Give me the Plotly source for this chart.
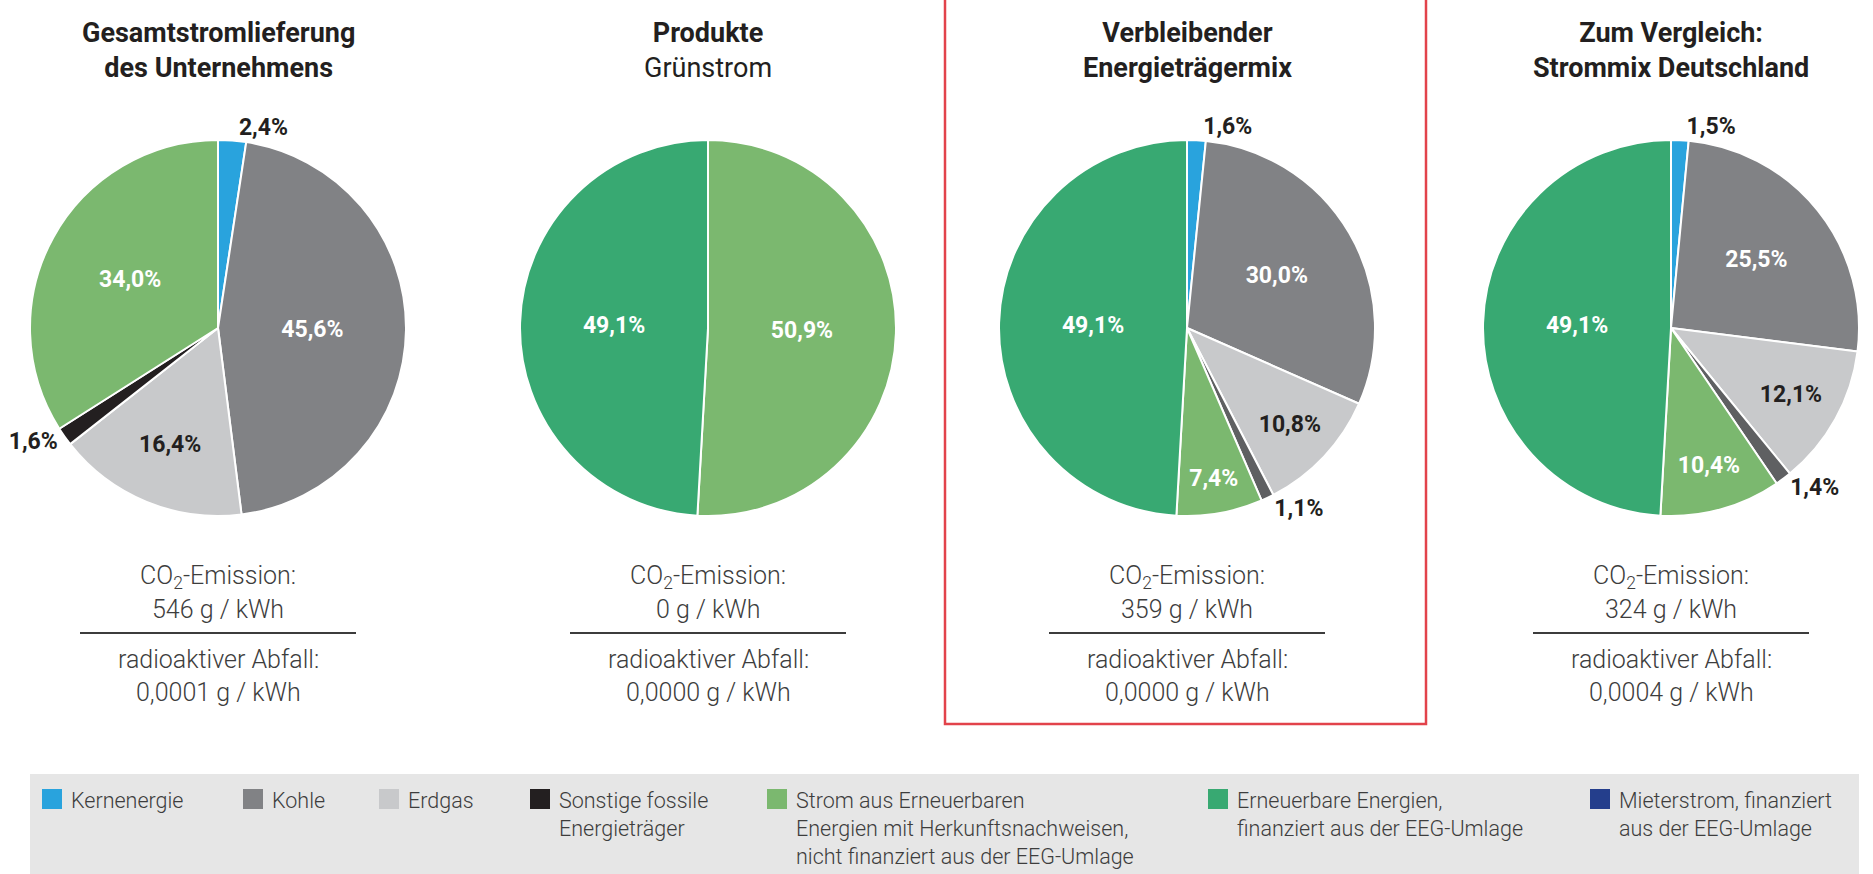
import plotly.graph_objects as go

W, H = 1873, 874

# ---------------- data ----------------
categories = ["Kernenergie", "Kohle", "Erdgas", "Sonstige fossile Energieträger",
              "Strom aus Erneuerbaren Energien mit HKN", "Erneuerbare Energien (EEG)",
              "Mieterstrom (EEG)"]
category_colors = ["#29a3dd", "#818285", "#c8c9cb", "#231f20", "#7bb86f", "#38a972", "#243e8c"]

pie_titles = ["<b>Gesamtstromlieferung</b><br><b>des Unternehmens</b>",
              "<b>Produkte</b><br>Grünstrom",
              "<b>Verbleibender</b><br><b>Energieträgermix</b>",
              "<b>Zum Vergleich:</b><br><b>Strommix Deutschland</b>"]

pie1_cats = ["Kernenergie", "Kohle", "Erdgas", "Sonstige fossile Energieträger",
             "Strom aus Erneuerbaren Energien mit HKN"]
pie1_vals = [2.4, 45.6, 16.4, 1.6, 34.0]

pie2_cats = ["Strom aus Erneuerbaren Energien mit HKN", "Erneuerbare Energien (EEG)"]
pie2_vals = [50.9, 49.1]

pie3_cats = ["Kernenergie", "Kohle", "Erdgas", "Sonstige fossile Energieträger",
             "Strom aus Erneuerbaren Energien mit HKN", "Erneuerbare Energien (EEG)"]
pie3_vals = [1.6, 30.0, 10.8, 1.1, 7.4, 49.1]

pie4_cats = pie3_cats
pie4_vals = [1.5, 25.5, 12.1, 1.4, 10.4, 49.1]

co2_values = ["546", "0", "359", "324"]
waste_values = ["0,0001", "0,0000", "0,0000", "0,0004"]

legend_labels = ["Kernenergie", "Kohle", "Erdgas",
                 "Sonstige fossile<br>Energieträger",
                 "Strom aus Erneuerbaren<br>Energien mit Herkunftsnachweisen,<br>nicht finanziert aus der EEG-Umlage",
                 "Erneuerbare Energien,<br>finanziert aus der EEG-Umlage",
                 "Mieterstrom, finanziert<br>aus der EEG-Umlage"]

# ---------------- layout helpers ----------------
pie_cx = [218, 708, 1187, 1671]
pie_cy = 328
pie_r = 188
legend_square_x = [42, 243, 379, 530, 767, 1208, 1590]

DARK = "#231f20"
TEXT_GRAY = "#3d3d3d"
light_cats = {"Erdgas"}
dark_small_color = "#5f6062"  # 'Sonstige' shade used in pies 3 and 4


def px_x(x):
    return x / W


def px_y(y):
    return 1 - y / H


fig = go.Figure()

pies = [(pie1_cats, pie1_vals), (pie2_cats, pie2_vals), (pie3_cats, pie3_vals), (pie4_cats, pie4_vals)]
for i, (cats, vals) in enumerate(pies):
    colors = []
    tcolors = []
    tpos = []
    for c, v in zip(cats, vals):
        col = category_colors[categories.index(c)]
        if c == "Sonstige fossile Energieträger" and i >= 2:
            col = dark_small_color
        colors.append(col)
        if v < 3:
            tpos.append("outside")
            tcolors.append(DARK)
        else:
            tpos.append("inside")
            tcolors.append(DARK if c in light_cats else "white")
    cx = pie_cx[i]
    fig.add_trace(go.Pie(
        labels=cats, values=vals, sort=False, direction="clockwise", rotation=0,
        marker=dict(colors=colors, line=dict(color="white", width=2)),
        texttemplate="%{value:.1f}%", textposition=tpos,
        insidetextorientation="horizontal",
        textfont=dict(family="Roboto", size=23, color=tcolors, weight="bold"),
        hoverinfo="skip", showlegend=False,
        domain=dict(x=[px_x(cx - pie_r), px_x(cx + pie_r)],
                    y=[px_y(pie_cy + pie_r), px_y(pie_cy - pie_r)]),
    ))

annotations = []
shapes = []

# red highlight frame around third chart
shapes.append(dict(type="rect", xref="paper", yref="paper",
                   x0=px_x(945), x1=px_x(1426), y0=px_y(724), y1=px_y(-5),
                   line=dict(color="#e2434b", width=2.5), fillcolor="rgba(0,0,0,0)"))

for i in range(4):
    cx = pie_cx[i]
    annotations.append(dict(x=px_x(cx), y=px_y(50), xref="paper", yref="paper",
                            text=pie_titles[i], showarrow=False, xanchor="center", yanchor="middle",
                            font=dict(family="Roboto", size=27, color=DARK)))
    for txt, yy in [("CO<sub>2</sub>-Emission:", 577),
                    (f"{co2_values[i]} g / kWh", 609),
                    ("radioaktiver Abfall:", 659),
                    (f"{waste_values[i]} g / kWh", 692)]:
        annotations.append(dict(x=px_x(cx), y=px_y(yy), xref="paper", yref="paper",
                                text=txt, showarrow=False, xanchor="center", yanchor="middle",
                                font=dict(family="Roboto", size=25, color=TEXT_GRAY, weight=300)))
    shapes.append(dict(type="line", xref="paper", yref="paper",
                       x0=px_x(cx - 138), x1=px_x(cx + 138), y0=px_y(633), y1=px_y(633),
                       line=dict(color="#3c3c3c", width=2)))

# legend box
shapes.append(dict(type="rect", xref="paper", yref="paper",
                   x0=px_x(30), x1=px_x(1859), y0=px_y(880), y1=px_y(774),
                   line=dict(width=0), fillcolor="#e6e6e6", layer="below"))

for k, lab in enumerate(legend_labels):
    sx = legend_square_x[k]
    shapes.append(dict(type="rect", xref="paper", yref="paper",
                       x0=px_x(sx), x1=px_x(sx + 20), y0=px_y(809), y1=px_y(789),
                       line=dict(width=0), fillcolor=category_colors[k]))
    annotations.append(dict(x=px_x(sx + 27), y=px_y(786), xref="paper", yref="paper",
                            text=lab, showarrow=False, xanchor="left", yanchor="top", align="left",
                            font=dict(family="Roboto", size=21.5, color=TEXT_GRAY, weight=300)))

fig.update_layout(width=W, height=H, margin=dict(l=0, r=0, t=0, b=0),
                  paper_bgcolor="white", plot_bgcolor="white",
                  separators=",.", annotations=annotations, shapes=shapes,
                  font=dict(family="Roboto"))

fig.write_html("out.html", config={"displayModeBar": False},
               post_script="document.body.style.margin='0';")
